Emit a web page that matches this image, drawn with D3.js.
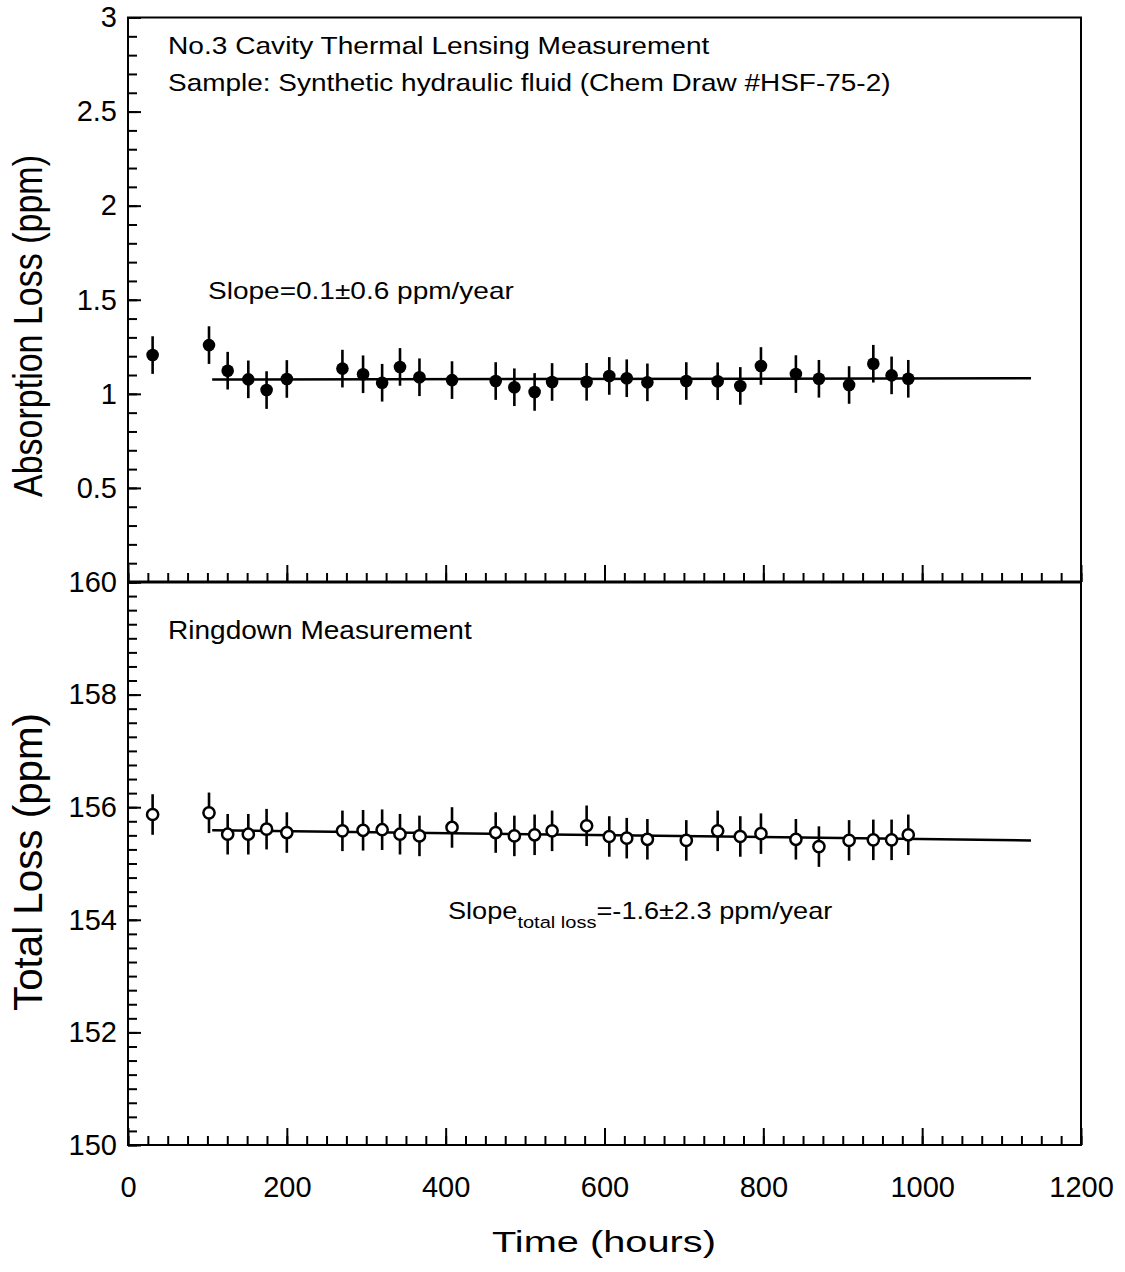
<!DOCTYPE html>
<html>
<head>
<meta charset="utf-8">
<script src="https://cdn.jsdelivr.net/npm/d3@7"></script>
<style>
    body { margin: 0; background: #fff; }
    svg { display: block; font-family: 'Liberation Sans', Arial, Helvetica, sans-serif; }
</style>
</head>
<body>
<svg></svg>
<script>
const width = 1125;
const height = 1272;

// measurement times (hours)
const hours = [31, 102, 125.5, 151.5, 174.5, 200, 270, 296, 320, 342.5, 367, 408, 463, 486.5, 512,
    534, 577.5, 606, 628, 654, 703, 742.5, 771, 797, 841, 870, 908, 938.5, 961.5, 982.5];
const absorptionLoss = [1.206, 1.259, 1.123, 1.077, 1.020, 1.079, 1.134, 1.104, 1.059, 1.143, 1.088,
    1.073, 1.068, 1.035, 1.010, 1.063, 1.064, 1.095, 1.083, 1.061, 1.068, 1.067, 1.042, 1.148,
    1.105, 1.080, 1.047, 1.160, 1.098, 1.080];
const absorptionErr = [0.1, 0.1, 0.1, 0.1, 0.1, 0.1, 0.1, 0.1, 0.1, 0.1, 0.1, 0.1, 0.1, 0.1, 0.1,
    0.1, 0.1, 0.1, 0.1, 0.1, 0.1, 0.1, 0.1, 0.1, 0.1, 0.1, 0.1, 0.1, 0.1, 0.1];
const totalLoss = [155.87, 155.90, 155.52, 155.52, 155.61, 155.55, 155.58, 155.59, 155.60, 155.52,
    155.49, 155.64, 155.55, 155.49, 155.51, 155.58, 155.67, 155.48, 155.45, 155.43, 155.41, 155.58,
    155.48, 155.53, 155.43, 155.30, 155.41, 155.42, 155.42, 155.51];
const totalErr = [0.36, 0.36, 0.36, 0.36, 0.36, 0.36, 0.36, 0.36, 0.36, 0.36, 0.36, 0.36, 0.36, 0.36,
    0.36, 0.36, 0.36, 0.36, 0.36, 0.36, 0.36, 0.36, 0.36, 0.36, 0.36, 0.36, 0.36, 0.36, 0.36, 0.36];

// linear fits (end points)
const fitHours = [106, 1137];
const fitAbsorption = [1.076, 1.083];
const fitTotal = [155.59, 155.41];

const xTicks = [0, 200, 400, 600, 800, 1000, 1200];
const topTicks = [0.5, 1, 1.5, 2, 2.5, 3];
const bottomTicks = [150, 152, 154, 156, 158, 160];

const plotLeft = 128;
const plotRight = 1081;
const plotTop = 17.5;
const plotMid = 582;
const plotBottom = 1145;

const x = d3.scaleLinear().domain([0, 1200]).range([plotLeft, plotRight]);
const yTop = d3.scaleLinear().domain([0, 3]).range([plotMid, plotTop]);
const yBot = d3.scaleLinear().domain([150, 160]).range([plotBottom, plotMid]);

const svg = d3.select('svg')
    .attr('width', width)
    .attr('height', height);

svg.append('rect')
    .attr('width', width)
    .attr('height', height)
    .attr('fill', '#fff');

function tickAxis(axis, size, values, transform) {
    const g = svg.append('g')
        .attr('transform', transform)
        .call(axis.tickValues(values).tickSize(size).tickFormat(''));
    g.select('.domain').remove();
    g.selectAll('line').attr('stroke', '#000').attr('stroke-width', 2);
}

function labelAxis(axis, values, padding, transform, fmt) {
    const g = svg.append('g')
        .attr('transform', transform)
        .call(axis.tickValues(values).tickSize(0).tickPadding(padding).tickFormat(fmt));
    g.select('.domain').remove();
    g.selectAll('text')
        .attr('fill', '#000')
        .style('font-size', '29px')
        .style('font-family', "'Liberation Sans', Arial, sans-serif");
}

// inward ticks on left axes
tickAxis(d3.axisRight(yTop), 9, d3.range(0, 3.001, 0.1), `translate(${plotLeft},0)`);
tickAxis(d3.axisRight(yTop), 13, d3.range(0, 3.001, 0.5), `translate(${plotLeft},0)`);
tickAxis(d3.axisRight(yBot), 9, d3.range(150, 160.001, 0.25), `translate(${plotLeft},0)`);
tickAxis(d3.axisRight(yBot), 13, bottomTicks, `translate(${plotLeft},0)`);

// inward ticks on time axes
for (const yPos of [plotMid, plotBottom]) {
    tickAxis(d3.axisTop(x), 9, d3.range(0, 1200.001, 25), `translate(0,${yPos})`);
    tickAxis(d3.axisTop(x), 17, d3.range(0, 1200.001, 200), `translate(0,${yPos})`);
}

labelAxis(d3.axisLeft(yTop), topTicks, 11, `translate(${plotLeft},0)`, d3.format(''));
labelAxis(d3.axisLeft(yBot), bottomTicks, 11, `translate(${plotLeft},0)`, d3.format(''));
labelAxis(d3.axisBottom(x), xTicks, 31, `translate(0,${plotBottom})`, d3.format(''));

// frames
svg.append('rect')
    .attr('x', plotLeft)
    .attr('y', plotTop)
    .attr('width', plotRight - plotLeft)
    .attr('height', plotBottom - plotTop)
    .attr('fill', 'none')
    .attr('stroke', '#000')
    .attr('stroke-width', 2);

svg.append('line')
    .attr('x1', plotLeft)
    .attr('x2', plotRight)
    .attr('y1', plotMid)
    .attr('y2', plotMid)
    .attr('stroke', '#000')
    .attr('stroke-width', 3);

function drawSeries(values, errors, fit, y, filled) {
    const rows = hours.map((h, i) => ({ h, v: values[i], e: errors[i] }));
    const g = svg.append('g');

    g.append('path')
        .datum(fitHours.map((h, i) => [h, fit[i]]))
        .attr('fill', 'none')
        .attr('stroke', '#000')
        .attr('stroke-width', 2.5)
        .attr('d', d3.line().x(d => x(d[0])).y(d => y(d[1])));

    g.selectAll('.err')
        .data(rows)
        .enter()
        .append('line')
            .classed('err', true)
            .attr('x1', d => x(d.h))
            .attr('x2', d => x(d.h))
            .attr('y1', d => y(d.v - d.e))
            .attr('y2', d => y(d.v + d.e))
            .attr('stroke', '#000')
            .attr('stroke-width', 2.6);

    g.selectAll('.pt')
        .data(rows)
        .enter()
        .append('circle')
            .classed('pt', true)
            .attr('cx', d => x(d.h))
            .attr('cy', d => y(d.v))
            .attr('r', filled ? 6.3 : 5.6)
            .attr('fill', filled ? '#000' : '#fff')
            .attr('stroke', '#000')
            .attr('stroke-width', filled ? 0 : 2.5);
}

drawSeries(absorptionLoss, absorptionErr, fitAbsorption, yTop, true);
drawSeries(totalLoss, totalErr, fitTotal, yBot, false);

// stretch a text horizontally so that it spans the wanted width
function stretch(text, xPos, yPos, wanted, anchor) {
    const w = text.node().getBBox().width;
    const k = wanted / w;
    const shift = anchor === 'middle' ? -wanted / 2 : 0;
    text.attr('transform', `translate(${xPos + shift},${yPos}) scale(${k},1)`);
}

function note(str, xPos, yPos, size, len) {
    const t = svg.append('text')
        .style('font-size', size + 'px')
        .text(str);
    stretch(t, xPos, yPos, len);
}

note('No.3 Cavity Thermal Lensing Measurement', 168, 54, 24, 542);
note('Sample: Synthetic hydraulic fluid (Chem Draw #HSF-75-2)', 168, 91, 24, 723);
note('Slope=0.1\u00b10.6 ppm/year', 208, 299, 24, 306);
note('Ringdown Measurement', 168, 639, 25, 304);

const slope = svg.append('text')
    .style('font-size', '23px');
slope.append('tspan').text('Slope');
slope.append('tspan')
    .attr('dy', 9)
    .style('font-size', '17px')
    .text('total loss');
slope.append('tspan')
    .attr('dy', -9)
    .text('=-1.6\u00b12.3 ppm/year');
stretch(slope, 448, 919, 385);

const timeLabel = svg.append('text')
    .style('font-size', '29px')
    .text('Time (hours)');
stretch(timeLabel, 604, 1252, 224, 'middle');

svg.append('text')
    .attr('transform', 'translate(42,326) scale(1.2,1) rotate(-90)')
    .attr('text-anchor', 'middle')
    .attr('textLength', 342)
    .attr('lengthAdjust', 'spacingAndGlyphs')
    .style('font-size', '34px')
    .text('Absorption Loss (ppm)');

svg.append('text')
    .attr('transform', 'translate(42,862) scale(1.2,1) rotate(-90)')
    .attr('text-anchor', 'middle')
    .attr('textLength', 298)
    .attr('lengthAdjust', 'spacingAndGlyphs')
    .style('font-size', '34px')
    .text('Total Loss (ppm)');
</script>
</body>
</html>
